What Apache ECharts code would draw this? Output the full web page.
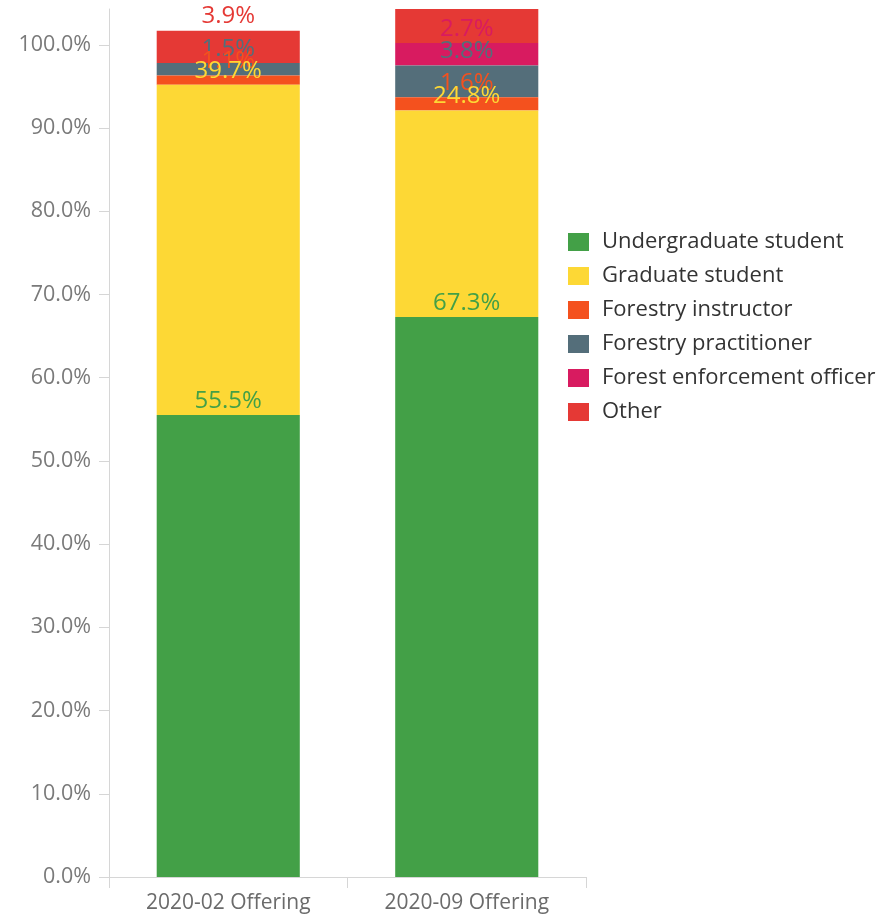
<!DOCTYPE html>
<html>
<head>
<meta charset="utf-8">
<script src="https://cdn.jsdelivr.net/npm/echarts@6/dist/echarts.min.js"></script>
<style>
  html, body { margin: 0; padding: 0; background: #fff; }
  #chart { width: 884px; height: 917px; }
</style>
</head>
<body>
<div id="chart"></div>
<script>
// Respondent roles per course offering, in percent
const offerings = ['2020-02 Offering', '2020-09 Offering'];
const roles = ['Undergraduate student', 'Graduate student', 'Forestry instructor',
               'Forestry practitioner', 'Forest enforcement officer', 'Other'];
const undergraduate = [55.5, 67.3];
const graduate = [39.7, 24.8];
const instructor = [1.1, 1.6];
const practitioner = [1.5, 3.8];
const enforcement = [null, 2.7];
const other = [3.9, 4.9];
const yTicks = [0, 10, 20, 30, 40, 50, 60, 70, 80, 90, 100];

const roleValues = [undergraduate, graduate, instructor, practitioner, enforcement, other];
const colors = ['#43A047', '#FDD835', '#F4511E', '#546E7A', '#D81B60', '#E53935'];
const yMax = 104.3;
const font = 'Open Sans';

const running = offerings.map(() => 0);
const series = roles.map((name, i) => {
  const data = roleValues[i].map((v, j) => {
    if (v == null) return null;
    running[j] += v;
    // a segment running past the top of the plot keeps its label out of view
    return running[j] > yMax ? { value: v, label: { show: false } } : v;
  });
  return {
    name,
    type: 'bar',
    stack: 'roles',
    barWidth: '60%',
    z: 2 + roles.length - i,
    itemStyle: { color: colors[i] },
    label: {
      show: true,
      position: 'top',
      distance: 2,
      color: colors[i],
      fontFamily: font,
      fontSize: 24,
      formatter: p => p.value.toFixed(1) + '%'
    },
    data
  };
});

const chart = echarts.init(document.getElementById('chart'), null, { renderer: 'canvas' });
chart.setOption({
  animation: false,
  backgroundColor: '#fff',
  color: colors,
  grid: { left: 109, right: 298, top: 9, bottom: 40, containLabel: false },
  legend: {
    orient: 'vertical',
    left: 568,
    top: 231,
    padding: 0,
    itemWidth: 21,
    itemHeight: 18,
    itemGap: 12,
    icon: 'rect',
    data: roles,
    textStyle: { fontFamily: font, fontSize: 22, lineHeight: 22, color: '#333', padding: [0, 0, 0, 8] }
  },
  xAxis: {
    type: 'category',
    data: offerings,
    axisLine: { lineStyle: { color: '#d6d6d6' } },
    axisTick: { show: true, length: 11, lineStyle: { color: '#d6d6d6' } },
    axisLabel: { color: '#6b6b6b', fontFamily: font, fontSize: 21, margin: 16 }
  },
  yAxis: {
    type: 'value',
    min: 0,
    max: yMax,
    interval: 10,
    splitLine: { show: false },
    axisLine: { show: true, lineStyle: { color: '#d6d6d6' } },
    axisTick: { show: true, length: 10, customValues: yTicks, lineStyle: { color: '#d6d6d6' } },
    axisLabel: {
      customValues: yTicks,
      color: '#7a7a7a', fontFamily: font, fontSize: 21.5, margin: 18,
      formatter: v => v.toFixed(1) + '%'
    }
  },
  series
});
</script>
</body>
</html>
